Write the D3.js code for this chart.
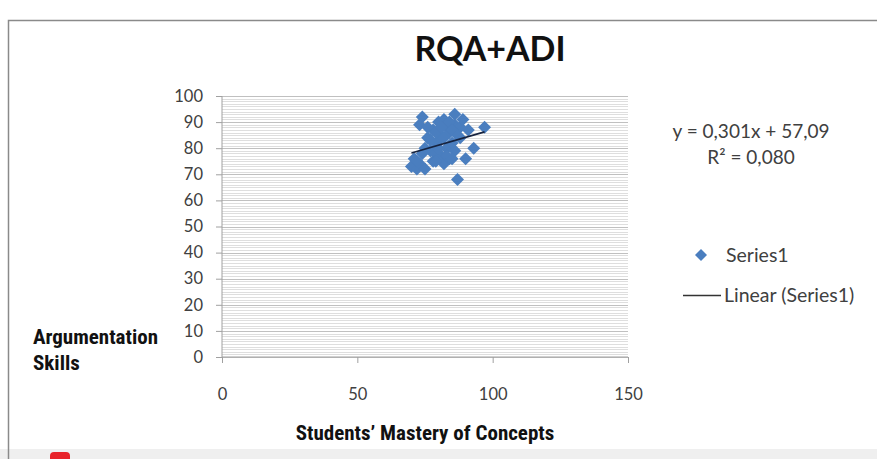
<!DOCTYPE html>
<html>
<head>
<meta charset="utf-8">
<script src="https://cdn.jsdelivr.net/npm/d3@7"></script>
<style>
  html, body { margin: 0; padding: 0; background: #fff; }
  svg { display: block; }
</style>
</head>
<body>
<svg id="chart" width="877" height="459"></svg>
<script>
// ---- data ----
const chartTitle = "RQA+ADI";
const xTitle = "Students\u2019 Mastery of Concepts";
const yTitleLines = ["Argumentation", "Skills"];
const seriesName = "Series1";
const trendName = "Linear (Series1)";
const masteryX = [70, 71, 72, 73, 75, 74, 73, 75, 76, 77, 78, 78, 79, 80, 80, 81, 81, 82, 82, 83, 83, 84, 84, 85, 86, 86, 86, 87, 88, 88, 89, 90, 91, 93, 97, 79, 84, 76, 77, 79, 80, 81, 82, 83, 85, 85, 87, 79, 74, 72];
const argumentY = [73, 76, 72, 74, 72, 92, 89, 80, 84, 79, 87, 75, 82, 90, 86, 84, 77, 91, 74, 88, 80, 86, 76, 82, 93, 89, 79, 68, 88, 84, 91, 76, 87, 80, 88, 78, 90, 88, 83, 86, 80, 88, 84, 77, 87, 76, 85, 75, 78, 75];
const trendSlope = 0.301;
const trendIntercept = 57.09;
const equationLines = ["y = 0,301x + 57,09", "R\u00b2 = 0,080"];
const xTicks = [0, 50, 100, 150];
const yTicks = [0, 10, 20, 30, 40, 50, 60, 70, 80, 90, 100];

// ---- drawing ----
const svg = d3.select("#chart");
const font = "Lato, 'Open Sans', sans-serif";
const narrow = "'Liberation Sans Narrow', 'Roboto Condensed', 'Liberation Sans', sans-serif";
const blue = "#4a7ebf";
const textCol = "#404040";

// outer frame
svg.append("rect").attr("x", 0).attr("y", 449).attr("width", 877).attr("height", 10).attr("fill", "#efefef");
svg.append("path").attr("d", "M8.5,459 V20.5 H877").attr("fill", "none").attr("stroke", "#8a8a8a").attr("stroke-width", 1.5);
svg.append("rect").attr("x", 50).attr("y", 452).attr("width", 20).attr("height", 14).attr("rx", 4).attr("fill", "#e8232a");

const x = d3.scaleLinear().domain([0, 150]).range([222, 628]);
const y = d3.scaleLinear().domain([0, 100]).range([357, 96]);

// minor grid
const minor = d3.range(0, 101, 1).filter(v => v % 10 !== 0);
svg.append("g").selectAll("line").data(minor).join("line")
  .attr("x1", x(0)).attr("x2", x(150))
  .attr("y1", d => Math.round(y(d)) + 0.5).attr("y2", d => Math.round(y(d)) + 0.5)
  .attr("stroke", "#dedede").attr("stroke-width", 1);
// major grid
svg.append("g").selectAll("line").data(yTicks).join("line")
  .attr("x1", x(0)).attr("x2", x(150))
  .attr("y1", d => Math.round(y(d)) + 0.5).attr("y2", d => Math.round(y(d)) + 0.5)
  .attr("stroke", "#c0c0c0").attr("stroke-width", 1.2);

// axes
const yAxis = d3.axisLeft(y).tickValues(yTicks).tickSize(6).tickPadding(13).tickFormat(d3.format("d"));
const gy = svg.append("g").attr("transform", `translate(${x(0)},0)`).call(yAxis);
gy.select(".domain").attr("stroke", "#a0a0a0").attr("d", `M0,${y(100)}V${y(0)}`);
gy.selectAll(".tick line").attr("stroke", "#a0a0a0");
gy.selectAll("text").attr("font-family", font).attr("font-size", 16.5).attr("fill", textCol);

const xAxis = d3.axisBottom(x).tickValues(xTicks).tickSize(6).tickPadding(25).tickFormat(d3.format("d"));
const gx = svg.append("g").attr("transform", `translate(0,${y(0)})`).call(xAxis);
gx.select(".domain").attr("stroke", "#a0a0a0").attr("d", `M${x(0)},0H${x(150)}`);
gx.selectAll(".tick line").attr("stroke", "#a0a0a0");
gx.selectAll("text").attr("font-family", font).attr("font-size", 16.5).attr("fill", textCol);

// points (diamonds)
const pts = masteryX.map((v, i) => [v, argumentY[i]]);
const diamond = (cx, cy, r) => `M${cx},${cy - r}L${cx + r},${cy}L${cx},${cy + r}L${cx - r},${cy}Z`;
svg.append("g").selectAll("path").data(pts).join("path")
  .attr("d", d => diamond(x(d[0]), y(d[1]), 6.5))
  .attr("fill", blue);

// trendline
const xMin = d3.min(masteryX), xMax = d3.max(masteryX);
svg.append("line")
  .attr("x1", x(xMin)).attr("y1", y(trendSlope * xMin + trendIntercept))
  .attr("x2", x(xMax)).attr("y2", y(trendSlope * xMax + trendIntercept))
  .attr("stroke", "#16233f").attr("stroke-width", 1.8);

// title
svg.append("text").attr("x", 490).attr("y", 61).attr("text-anchor", "middle")
  .attr("font-family", font).attr("font-size", 34).attr("font-weight", "bold").attr("fill", "#111")
  .text(chartTitle);

// equation
svg.append("g").selectAll("text").data(equationLines).join("text")
  .attr("x", 751).attr("y", (d, i) => 138 + i * 26).attr("text-anchor", "middle")
  .attr("font-family", font).attr("font-size", 19).attr("fill", textCol)
  .text(d => d);

// legend
svg.append("path").attr("d", diamond(701, 255, 6)).attr("fill", blue);
svg.append("text").attr("x", 726).attr("y", 262).attr("font-family", font).attr("font-size", 19.5).attr("fill", textCol).text(seriesName);
svg.append("line").attr("x1", 683).attr("x2", 721).attr("y1", 295.5).attr("y2", 295.5).attr("stroke", "#333").attr("stroke-width", 1.3);
svg.append("text").attr("x", 724).attr("y", 302).attr("font-family", font).attr("font-size", 19.5).attr("fill", textCol).text(trendName);

// axis titles
svg.append("text").attr("x", 425).attr("y", 440).attr("text-anchor", "middle")
  .attr("font-family", narrow).attr("font-size", 21).attr("font-weight", "bold").attr("fill", "#111")
  .text(xTitle);
svg.append("g").selectAll("text").data(yTitleLines).join("text")
  .attr("x", 33).attr("y", (d, i) => 344 + i * 26)
  .attr("font-family", narrow).attr("font-size", 21).attr("font-weight", "bold").attr("fill", "#111")
  .text(d => d);
</script>
</body>
</html>
